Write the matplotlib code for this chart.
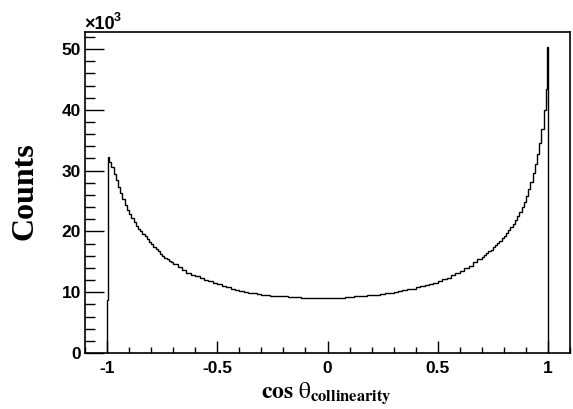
import numpy as np
import matplotlib
matplotlib.use("Agg")
import matplotlib.pyplot as plt
from matplotlib.ticker import MultipleLocator

# cos(theta_collinearity) histogram, values (units of 10^3 counts)

# bin edges: very fine at the ends, 0.01 on the steep parts, 0.02 in the flat middle
edges = ([-1.0, -0.997, -0.99]
         + list(np.round(np.linspace(-0.98, -0.71, 28), 3))
         + list(np.round(np.linspace(-0.70, 0.68, 70), 3))
         + list(np.round(np.linspace(0.70, 0.95, 26), 3))
         + [0.96, 0.97, 0.98, 0.99, 0.996, 1.0])

edge_left = [8.7, 32.2, 31.4]
steep_left = [
    30.6, 29.5, 28.4, 27.3, 26.3, 25.3, 24.4, 23.6, 22.9, 22.2,
    21.5, 20.9, 20.4, 20.0, 19.6, 19.2, 18.7, 18.3, 17.9, 17.5,
    17.1, 16.7, 16.3, 16.0, 15.7, 15.4, 15.2, 14.9,
]
middle = [
    14.6, 14.1, 13.6, 13.2, 12.9, 12.6, 12.3, 12.0, 11.8, 11.5,
    11.3, 11.1, 10.8, 10.6, 10.4, 10.2, 10.0, 9.9, 9.8, 9.7,
    9.6, 9.5, 9.45, 9.4, 9.35, 9.3, 9.25, 9.2, 9.15, 9.1,
    9.1, 9.05, 9.0, 9.0, 9.0, 9.0,
    9.0, 9.05, 9.1, 9.15, 9.2, 9.3, 9.35, 9.4, 9.5, 9.55,
    9.6, 9.7, 9.8, 9.9, 10.0, 10.15, 10.3, 10.45, 10.6, 10.8,
    11.0, 11.2, 11.35, 11.55, 11.8, 12.1, 12.4, 12.75, 13.1, 13.5,
    13.9, 14.3, 14.9, 15.5,
]
steep_right = [
    15.8, 16.1, 16.4, 16.7, 17.0, 17.4, 17.7, 18.1, 18.5, 18.9,
    19.3, 19.7, 20.2, 20.7, 21.3, 21.9, 22.5, 23.2, 24.0, 24.9,
    25.9, 27.0, 28.2, 29.6, 31.1, 32.8,
]
edge_right = [34.5, 36.8, 40.0, 43.5, 50.4]
counts = edge_left + steep_left + middle + steep_right + edge_right

x_ticks = [-1, -0.5, 0, 0.5, 1]
x_tick_labels = ["-1", "-0.5", "0", "0.5", "1"]
y_ticks = [0, 10, 20, 30, 40, 50]

W, H = 573, 409
fig = plt.figure(figsize=(W / 100, H / 100), dpi=100)
ax = fig.add_axes([85 / W, 1 - 353 / H, (570 - 85) / W, (353 - 32) / H])

ax.stairs(counts, edges, baseline=0, fill=False, color="black", linewidth=1.0)

ax.set_xlim(-1.1, 1.1)
ax.set_ylim(0, 52.8)

for s in ax.spines.values():
    s.set_linewidth(1.2)
    s.set_color("black")

ax.set_xticks(x_ticks)
ax.set_xticklabels(x_tick_labels)
ax.set_yticks(y_ticks)
ax.xaxis.set_minor_locator(MultipleLocator(0.1))
ax.yaxis.set_minor_locator(MultipleLocator(2))

ax.tick_params(axis="x", which="major", direction="in", length=9, width=1, pad=6)
ax.tick_params(axis="x", which="minor", direction="in", length=4.5, width=1)
ax.tick_params(axis="y", which="major", direction="in", length=14, width=1, pad=3)
ax.tick_params(axis="y", which="minor", direction="in", length=7, width=1)

for lab in ax.get_xticklabels() + ax.get_yticklabels():
    lab.set_fontfamily("Liberation Sans")
    lab.set_fontweight("bold")
    lab.set_fontsize(12.5)

# exponent marker above the y axis
fig.text(84 / W, 1 - 29 / H, "\u00d710", family="Liberation Sans",
         fontweight="bold", fontsize=13, ha="left", va="baseline")
fig.text(114 / W, 1 - 21 / H, "3", family="Liberation Sans",
         fontweight="bold", fontsize=9, ha="left", va="baseline")

plt.rcParams["mathtext.fontset"] = "stix"
fig.text(25 / W, 1 - 191 / H, "Counts", family="Liberation Serif", fontweight="bold",
         fontsize=23, rotation=90, ha="center", va="center")
fig.text(326 / W, 1 - 398 / H, r"$\mathbf{cos}\ \mathrm{\theta}_{\mathbf{collinearity}}$",
         fontsize=17, ha="center", va="baseline")

fig.savefig("out.png", dpi=100)
